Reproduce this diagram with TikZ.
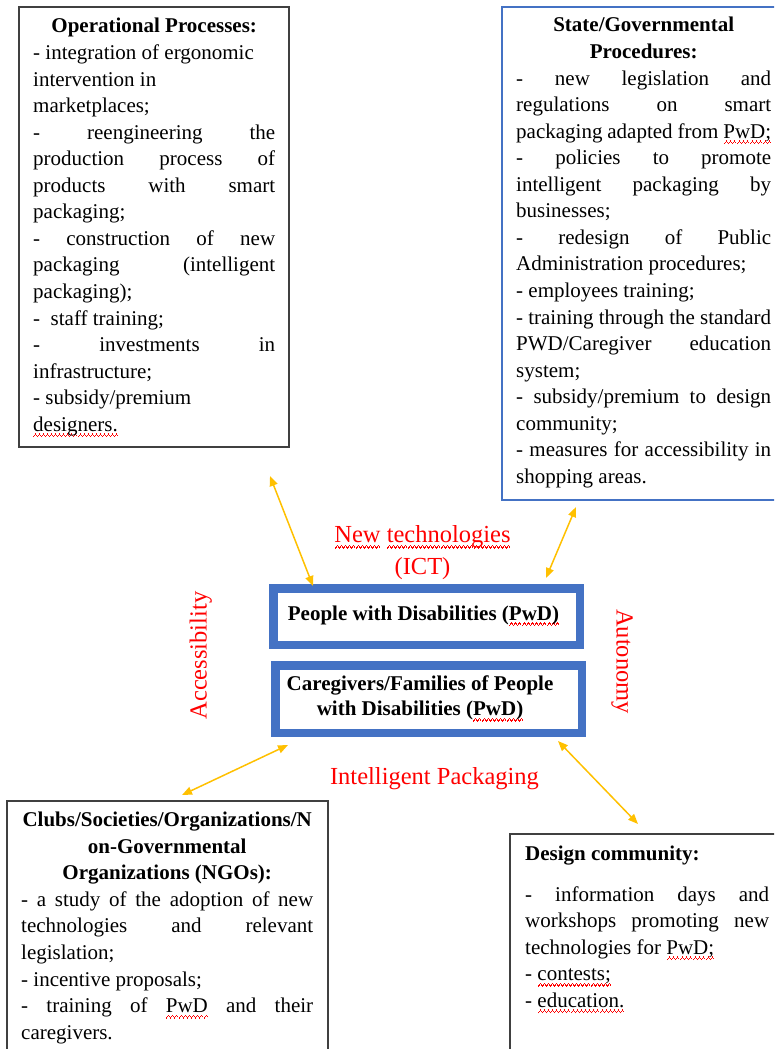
\documentclass[tikz,border=0pt]{standalone}
\usepackage{fontspec}
\setmainfont{Liberation Serif}
\usetikzlibrary{arrows.meta}

\definecolor{wordblue}{HTML}{4472C4}
\definecolor{gold}{HTML}{FFC000}
\definecolor{boxgray}{HTML}{404040}
\definecolor{labelred}{HTML}{FF0000}

% red spell-check squiggle under a word
\newsavebox\wavebox
\newlength\sqlen
\AtBeginDocument{\sbox\wavebox{\color{red}\rule{1pt}{1.4pt}\rule[1.2pt]{1pt}{1.4pt}\rule[2.4pt]{1pt}{1.4pt}\rule[1.2pt]{1pt}{1.4pt}}}
\newcommand\sq[1]{\settowidth\sqlen{#1}\rlap{\raisebox{-6pt}[0pt][0pt]{\hbox to\sqlen{\xleaders\copy\wavebox\hfill}}}#1}

% one typeset line: justified, left aligned or centred
\newcommand\linej[1]{\hbox to\hsize{#1}}
\newcommand\linel[1]{\hbox to\hsize{#1\hfil}}
\newcommand\linec[1]{\hbox to\hsize{\hfil#1\hfil}}
\newcommand\blockfont{\fontsize{21}{26.55}\selectfont\frenchspacing}
\newcommand\textblock[2]{\begin{minipage}[t]{#1}#2\end{minipage}}

\begin{document}
\begin{tikzpicture}[x=1pt,y=-1pt,
  plainbox/.style={draw=boxgray, line width=1.5pt, inner sep=0pt},
  statebox/.style={draw=wordblue, line width=1.4pt, inner sep=0pt},
  corebox/.style={draw=wordblue, line width=8.5pt, fill=white, inner sep=0pt},
  blocktext/.style={inner sep=0pt, anchor=base west},
  coretext/.style={inner sep=0pt, anchor=base, font=\fontsize{21}{25.7}\selectfont\bfseries},
  redlabel/.style={inner sep=0pt, anchor=base, text=labelred, font=\fontsize{24.5}{31.5}\selectfont},
  link/.style={draw=gold, line width=1.5pt,
    arrows={Triangle[length=10pt,width=8pt]-Triangle[length=10pt,width=8pt]}}]
\useasboundingbox (0,0) rectangle (774,1049);
\clip (0,0) rectangle (774,1049);

% outer boxes
\node[plainbox, minimum width=270pt, minimum height=440pt] (ops) at (154,227) {};
\node[statebox, minimum width=288pt, minimum height=493pt] (state) at (646,253.5) {};
\node[plainbox, minimum width=321pt, minimum height=279pt] (clubs) at (167.5,940.5) {};
\node[plainbox, minimum width=290pt, minimum height=246pt] (design) at (655,957) {};

% central boxes
\node[corebox, minimum width=306.5pt, minimum height=56.5pt] (pwd) at (426.5,616.5) {};
\node[corebox, minimum width=306.5pt, minimum height=67.5pt] (carers) at (428.5,699) {};
\node[coretext] (pwdtext) at (423.5,620) {People with Disabilities (\sq{PwD)}};
\node[coretext] (carerstext) at (420,690) {\textblock{300pt}{\fontsize{21}{25.7}\selectfont
  \linec{Caregivers/Families of People}
  \linec{with Disabilities (\sq{PwD)}}}};

% block texts
\node[blocktext] (opstext) at (33,33) {\textblock{242pt}{\blockfont
  \linec{\textbf{Operational Processes:}}
  \linel{- integration of ergonomic}
  \linel{intervention in}
  \linel{marketplaces;}
  \linej{- reengineering the}
  \linej{production process of}
  \linej{products with smart}
  \linel{packaging;}
  \linej{- construction of new}
  \linej{packaging (intelligent}
  \linel{packaging);}
  \linel{-\ \ staff training;}
  \linej{- investments in}
  \linel{infrastructure;}
  \linel{- subsidy/premium}
  \linel{\sq{designers.}}}};

\node[blocktext] (statetext) at (516,32) {\textblock{255pt}{\blockfont
  \linec{\textbf{State/Governmental}}
  \linec{\textbf{Procedures:}}
  \linej{- new legislation and}
  \linej{regulations on smart}
  \linej{packaging adapted from \sq{PwD;}}
  \linej{- policies to promote}
  \linej{intelligent packaging by}
  \linel{businesses;}
  \linej{- redesign of Public}
  \linel{Administration procedures;}
  \linel{- employees training;}
  \linej{- training through the standard}
  \linej{PWD/Caregiver education}
  \linel{system;}
  \linej{- subsidy/premium to design}
  \linel{community;}
  \linej{- measures for accessibility in}
  \linel{shopping areas.}}};

\node[blocktext] (clubstext) at (21,826.7) {\textblock{292pt}{\blockfont
  \linec{\textbf{Clubs/Societies/Organizations/N}}
  \linec{\textbf{on-Governmental}}
  \linec{\textbf{Organizations (NGOs):}}
  \linej{- a study of the adoption of new}
  \linej{technologies and relevant}
  \linel{legislation;}
  \linel{- incentive proposals;}
  \linej{- training of \sq{PwD} and their}
  \linel{caregivers.}}};

\node[blocktext] (designtext) at (525,860.5) {\textblock{244pt}{\blockfont
  \linel{\textbf{Design community:}}
  \vspace{14pt}
  \linej{- information days and}
  \linej{workshops promoting new}
  \linel{technologies for \sq{PwD;}}
  \linel{- \sq{contests;}}
  \linel{- \sq{education.}}}};

% red theme labels
\node[redlabel] (ict) at (422.5,542.7) {\textblock{220pt}{\fontsize{24.5}{31.5}\selectfont
  \linec{\sq{New} \sq{technologies}}
  \linec{(ICT)}}};
\node[redlabel] (packaging) at (434.5,784) {Intelligent Packaging};
\node[redlabel, rotate=90] (access) at (206.5,655.5) {Accessibility};
\node[redlabel, rotate=-90] (autonomy) at (616.7,661.5) {Autonomy};

% two-way links
\coordinate (l1a) at (270,476);
\coordinate (l1b) at (313,586);
\coordinate (l2a) at (576,507);
\coordinate (l2b) at (546,578);
\coordinate (l3a) at (288,745);
\coordinate (l3b) at (182,795);
\coordinate (l4a) at (558,741);
\coordinate (l4b) at (638,824);
\draw[link] (l1a) -- (l1b);
\draw[link] (l2a) -- (l2b);
\draw[link] (l3a) -- (l3b);
\draw[link] (l4a) -- (l4b);
\end{tikzpicture}
\end{document}
